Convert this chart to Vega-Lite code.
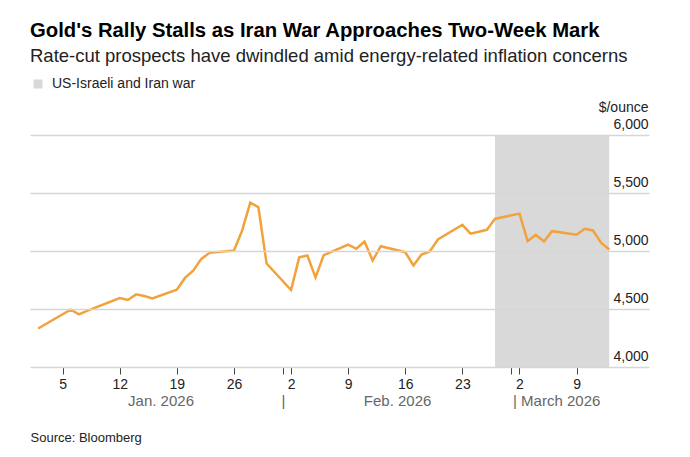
{
  "$schema": "https://vega.github.io/schema/vega-lite/v6.json",
  "width": 619,
  "height": 232,
  "autosize": {"type": "none"},
  "padding": {"left": 30, "top": 135, "right": 41, "bottom": 90},
  "title": {
    "text": "Gold's Rally Stalls as Iran War Approaches Two-Week Mark",
    "subtitle": "Rate-cut prospects have dwindled amid energy-related inflation concerns",
    "anchor": "start",
    "frame": "group",
    "font": "Liberation Sans",
    "fontSize": 20.3,
    "fontWeight": "bold",
    "color": "#000000",
    "subtitleFont": "Liberation Sans",
    "subtitleFontSize": 18.5,
    "subtitleColor": "#222222",
    "subtitlePadding": 6,
    "offset": 11
  },
  "datasets": {
    "gold": [
      {"date": "2026-01-02", "price": 4332},
      {"date": "2026-01-05", "price": 4455},
      {"date": "2026-01-06", "price": 4494},
      {"date": "2026-01-07", "price": 4453},
      {"date": "2026-01-08", "price": 4484},
      {"date": "2026-01-09", "price": 4512},
      {"date": "2026-01-12", "price": 4595},
      {"date": "2026-01-13", "price": 4578},
      {"date": "2026-01-14", "price": 4626},
      {"date": "2026-01-15", "price": 4612},
      {"date": "2026-01-16", "price": 4592},
      {"date": "2026-01-19", "price": 4667},
      {"date": "2026-01-20", "price": 4768},
      {"date": "2026-01-21", "price": 4831},
      {"date": "2026-01-22", "price": 4932},
      {"date": "2026-01-23", "price": 4984},
      {"date": "2026-01-26", "price": 5004},
      {"date": "2026-01-27", "price": 5175},
      {"date": "2026-01-28", "price": 5417},
      {"date": "2026-01-29", "price": 5377},
      {"date": "2026-01-30", "price": 4892},
      {"date": "2026-02-02", "price": 4664},
      {"date": "2026-02-03", "price": 4945},
      {"date": "2026-02-04", "price": 4961},
      {"date": "2026-02-05", "price": 4773},
      {"date": "2026-02-06", "price": 4964},
      {"date": "2026-02-09", "price": 5055},
      {"date": "2026-02-10", "price": 5019},
      {"date": "2026-02-11", "price": 5082},
      {"date": "2026-02-12", "price": 4918},
      {"date": "2026-02-13", "price": 5041},
      {"date": "2026-02-16", "price": 4990},
      {"date": "2026-02-17", "price": 4875},
      {"date": "2026-02-18", "price": 4970},
      {"date": "2026-02-19", "price": 4996},
      {"date": "2026-02-20", "price": 5099},
      {"date": "2026-02-23", "price": 5226},
      {"date": "2026-02-24", "price": 5149},
      {"date": "2026-02-25", "price": 5166},
      {"date": "2026-02-26", "price": 5183},
      {"date": "2026-02-27", "price": 5278},
      {"date": "2026-03-02", "price": 5322},
      {"date": "2026-03-03", "price": 5085},
      {"date": "2026-03-04", "price": 5140},
      {"date": "2026-03-05", "price": 5082},
      {"date": "2026-03-06", "price": 5171},
      {"date": "2026-03-09", "price": 5140},
      {"date": "2026-03-10", "price": 5192},
      {"date": "2026-03-11", "price": 5177},
      {"date": "2026-03-12", "price": 5071},
      {"date": "2026-03-13", "price": 5013}
    ],
    "war": [
      {"start": "2026-02-27", "end": "2026-03-13", "label": "US-Israeli and Iran war"}
    ]
  },
  "layer": [
    {
      "data": {"name": "war"},
      "mark": {"type": "rect", "color": "#d9d9d9"},
      "encoding": {
        "x": {
          "field": "start",
          "type": "temporal",
          "scale": {
            "type": "utc",
            "domain": [
              {"year": 2026, "month": 1, "date": 1, "utc": true},
              {"year": 2026, "month": 3, "date": 17, "hours": 21, "utc": true}
            ]
          },
          "axis": {
            "orient": "bottom",
            "values": [
              {"year": 2026, "month": 1, "date": 5, "utc": true},
              {"year": 2026, "month": 1, "date": 12, "utc": true},
              {"year": 2026, "month": 1, "date": 19, "utc": true},
              {"year": 2026, "month": 1, "date": 26, "utc": true},
              {"year": 2026, "month": 2, "date": 1, "utc": true},
              {"year": 2026, "month": 2, "date": 2, "utc": true},
              {"year": 2026, "month": 2, "date": 9, "utc": true},
              {"year": 2026, "month": 2, "date": 16, "utc": true},
              {"year": 2026, "month": 2, "date": 23, "utc": true},
              {"year": 2026, "month": 3, "date": 1, "utc": true},
              {"year": 2026, "month": 3, "date": 2, "utc": true},
              {"year": 2026, "month": 3, "date": 9, "utc": true}
            ],
            "labelExpr": "utcdate(datum.value) == 1 ? '' : utcFormat(datum.value, '%-d')",
            "grid": false,
            "domain": false,
            "ticks": true,
            "tickSize": 7,
            "tickColor": "#444444",
            "tickWidth": 1,
            "labelPadding": 3,
            "labelFont": "Liberation Sans",
            "labelFontSize": 14,
            "labelColor": "#222222",
            "labelBaseline": "top",
            "labelFlush": false,
            "labelOverlap": false,
            "title": null
          }
        },
        "x2": {"field": "end"},
        "fill": {
          "field": "label",
          "type": "nominal",
          "scale": {"range": ["#d9d9d9"]},
          "legend": {
            "orient": "none",
            "legendX": 1,
            "legendY": -58,
            "title": null,
            "symbolType": "square",
            "symbolSize": 81,
            "symbolStrokeWidth": 0,
            "labelFont": "Liberation Sans",
            "labelFontSize": 14,
            "labelColor": "#222222",
            "labelOffset": 7
          }
        }
      }
    },
    {
      "data": {"name": "gold"},
      "mark": {"type": "line", "color": "#F2A23A", "strokeWidth": 2.5},
      "encoding": {
        "x": {
          "field": "date",
          "type": "temporal",
          "axis": {
            "orient": "bottom",
            "values": [
              {"year": 2026, "month": 1, "date": 17, "utc": true},
              {"year": 2026, "month": 2, "date": 1, "utc": true},
              {"year": 2026, "month": 2, "date": 15, "utc": true},
              {"year": 2026, "month": 3, "date": 6, "hours": 12, "utc": true}
            ],
            "labelExpr": "utcdate(datum.value) == 1 ? '|' : utcmonth(datum.value) == 0 ? 'Jan. 2026' : utcmonth(datum.value) == 1 ? 'Feb. 2026' : '| March 2026'",
            "ticks": false,
            "tickSize": 0,
            "domain": false,
            "grid": false,
            "labelPadding": 26,
            "labelFont": "Liberation Sans",
            "labelFontSize": 15,
            "labelColor": "#666666",
            "labelBaseline": "top",
            "labelFlush": false,
            "labelOverlap": false,
            "title": "Source: Bloomberg",
            "titleAnchor": "start",
            "titleAlign": "left",
            "titleBaseline": "alphabetic",
            "titleX": 0,
            "titleY": 74,
            "titleFont": "Liberation Sans",
            "titleFontSize": 13,
            "titleFontWeight": "normal",
            "titleColor": "#222222"
          }
        },
        "y": {
          "field": "price",
          "type": "quantitative",
          "scale": {"domain": [4000, 6000], "nice": false, "zero": false},
          "axis": {
            "orient": "right",
            "values": [4000, 4500, 5000, 5500, 6000],
            "labelExpr": "format(datum.value, ',.0f')",
            "grid": true,
            "gridColor": "#d6d6d6",
            "gridWidth": 1.5,
            "domain": false,
            "ticks": false,
            "tickSize": 0,
            "labelAlign": "right",
            "labelBaseline": "alphabetic",
            "labelPadding": -1,
            "labelOffset": -7,
            "labelFont": "Liberation Sans",
            "labelFontSize": 14,
            "labelColor": "#222222",
            "title": "$/ounce",
            "titleAngle": 0,
            "titleAlign": "right",
            "titleBaseline": "alphabetic",
            "titleX": -1,
            "titleY": -24,
            "titleFont": "Liberation Sans",
            "titleFontSize": 14,
            "titleFontWeight": "normal",
            "titleColor": "#222222",
            "zindex": 1
          }
        }
      }
    }
  ],
  "resolve": {"axis": {"x": "independent"}},
  "config": {
    "view": {"stroke": null},
    "font": "Liberation Sans"
  }
}
